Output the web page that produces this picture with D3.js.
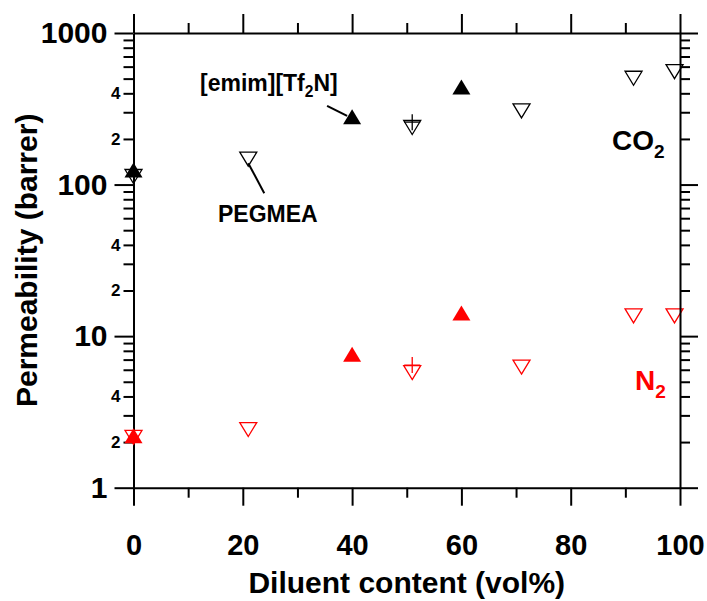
<!DOCTYPE html>
<html>
<head>
<meta charset="utf-8">
<script src="https://cdn.jsdelivr.net/npm/d3@7"></script>
<style>
  html, body { margin: 0; padding: 0; background: #fff; }
  svg { display: block; font-family: "Liberation Sans", Arial, sans-serif; font-weight: bold; }
</style>
</head>
<body>
<svg id="chart" width="707" height="601"></svg>
<script>
// Diluent content (vol%) and gas permeabilities (barrer)
const emimX   = [0, 40, 60];
const emimCO2 = [125, 280, 440];
const emimN2  = [2.2, 7.6, 14.2];

const pegmeaX   = [0, 21, 51, 71, 91.5, 99];
const pegmeaCO2 = [113, 147, 238, 306, 503, 556];
const pegmeaN2  = [2.15, 2.42, 5.75, 6.25, 13.6, 13.6];

const plusX   = [51];
const plusCO2 = [258];
const plusN2  = [6.44];

const xMajor = [0, 20, 40, 60, 80, 100];
const xMinor = [10, 30, 50, 70, 90];
const yMajor = [1, 10, 100, 1000];
const yMinor = [1, 10, 100].flatMap(d => [2, 3, 4, 5, 6, 7, 8, 9].map(k => k * d));

const svg = d3.select("#chart");
const L = 133.5, R = 680, T = 33, B = 487.7;

const x = d3.scaleLinear().domain([0, 100]).range([L, R]);
const y = d3.scaleLog().domain([1, 1000]).range([B, T]);

const lead = d => Math.round(d / Math.pow(10, Math.floor(Math.log10(d) + 1e-9)));
const minorLabel = d => (lead(d) === 2 || lead(d) === 4) ? String(lead(d)) : "";

function styleAxis(g) {
  g.selectAll("line").attr("stroke", "#000").attr("stroke-width", 2);
  g.selectAll("path.domain").attr("stroke", "#000").attr("stroke-width", 2);
  g.selectAll("text").attr("fill", "#000").attr("font-weight", "bold")
    .attr("font-family", "Liberation Sans, Arial, sans-serif");
}

// bottom axis
const gB = svg.append("g").attr("transform", `translate(0,${B})`);
gB.call(d3.axisBottom(x).tickValues(xMajor).tickSize(18).tickSizeOuter(0).tickPadding(29)
  .tickFormat(d3.format("d")));
gB.append("g").call(d3.axisBottom(x).tickValues(xMinor).tickSize(10).tickFormat(""))
  .select(".domain").remove();
gB.selectAll("text").attr("font-size", 29);
styleAxis(gB);

// top axis
const gT = svg.append("g").attr("transform", `translate(0,${T})`);
gT.call(d3.axisTop(x).tickValues(xMajor).tickSize(19).tickSizeOuter(0).tickFormat(""));
gT.append("g").call(d3.axisTop(x).tickValues(xMinor).tickSize(10).tickFormat(""))
  .select(".domain").remove();
styleAxis(gT);

// left axis
const gL = svg.append("g").attr("transform", `translate(${L},0)`);
gL.call(d3.axisLeft(y).tickValues(yMajor).tickSize(19).tickSizeOuter(0).tickPadding(7)
  .tickFormat(d3.format("d")));
gL.selectAll("text").attr("font-size", 30);
const gLm = gL.append("g").call(d3.axisLeft(y).tickValues(yMinor).tickSize(10).tickPadding(3)
  .tickFormat(minorLabel));
gLm.select(".domain").remove();
gLm.selectAll("text").attr("font-size", 17);
styleAxis(gL);

// markers
const tri = (w, h, down) => ({
  draw(ctx) {
    const s = down ? -1 : 1;
    ctx.moveTo(0, -s * h / 2);
    ctx.lineTo(w / 2, s * h / 2);
    ctx.lineTo(-w / 2, s * h / 2);
    ctx.closePath();
  }
});
const plus = r => ({
  draw(ctx) {
    ctx.moveTo(-r, 0); ctx.lineTo(r, 0);
    ctx.moveTo(0, -r); ctx.lineTo(0, r);
  }
});
const upPath = d3.symbol().type(tri(18, 15, false))();
const downPath = d3.symbol().type(tri(17, 14, true))();
const plusPath = d3.symbol().type(plus(8))();

function series(xs, ys, path, color, filled) {
  svg.append("g").selectAll("path")
    .data(xs.map((d, i) => [d, ys[i]]))
    .join("path")
    .attr("d", path)
    .attr("transform", d => `translate(${x(d[0])},${y(d[1])})`)
    .attr("fill", filled ? color : "none")
    .attr("stroke", filled ? "none" : color)
    .attr("stroke-width", 1.3);
}

series(pegmeaX, pegmeaCO2, downPath, "#000", false);
series(plusX, plusCO2, plusPath, "#000", false);
series(emimX, emimCO2, upPath, "#000", true);
series(pegmeaX, pegmeaN2, downPath, "#ff0000", false);
series(plusX, plusN2, plusPath, "#ff0000", false);
series(emimX, emimN2, upPath, "#ff0000", true);

// right axis
const gR = svg.append("g").attr("transform", `translate(${R},0)`);
gR.call(d3.axisRight(y).tickValues(yMajor).tickSize(18).tickSizeOuter(0).tickFormat(""));
gR.append("g").call(d3.axisRight(y).tickValues(yMinor).tickSize(10).tickFormat(""))
  .select(".domain").remove();
styleAxis(gR);

// axis titles
svg.append("text")
  .attr("x", (L + R) / 2).attr("y", 593)
  .attr("text-anchor", "middle").attr("font-size", 30)
  .text("Diluent content (vol%)");
svg.append("text")
  .attr("transform", `translate(37,${(T + B) / 2}) rotate(-90)`)
  .attr("text-anchor", "middle").attr("font-size", 30)
  .text("Permeability (barrer)");

// annotations
function subText(xp, yp, parts, size, color) {
  const t = svg.append("text").attr("x", xp).attr("y", yp)
    .attr("font-size", size).attr("fill", color);
  parts.forEach(([s, sub]) => {
    t.append("tspan").text(s)
      .attr("font-size", sub ? size * 0.68 : size)
      .attr("dy", sub ? size * 0.28 : (t.selectAll("tspan").size() > 1 ? -size * 0.28 : 0));
  });
  return t;
}
subText(200, 91, [["[emim][Tf", false], ["2", true], ["N]", false]], 23, "#000");
svg.append("text").attr("x", 218).attr("y", 222).attr("font-size", 23).text("PEGMEA");
subText(612, 150, [["CO", false], ["2", true]], 28, "#000");
subText(635, 390, [["N", false], ["2", true]], 28, "#ff0000");

// leader lines from labels to their markers
const pe = [x(pegmeaX[1]), y(pegmeaCO2[1])];
svg.append("line")
  .attr("x1", pe[0]).attr("y1", pe[1] + 4)
  .attr("x2", pe[0] + 16).attr("y2", pe[1] + 34)
  .attr("stroke", "#000").attr("stroke-width", 2);
const em = [x(emimX[1]), y(emimCO2[1])];
svg.append("line")
  .attr("x1", em[0] - 25).attr("y1", em[1] - 11)
  .attr("x2", em[0] - 5).attr("y2", em[1] - 1)
  .attr("stroke", "#000").attr("stroke-width", 2);
</script>
</body>
</html>
